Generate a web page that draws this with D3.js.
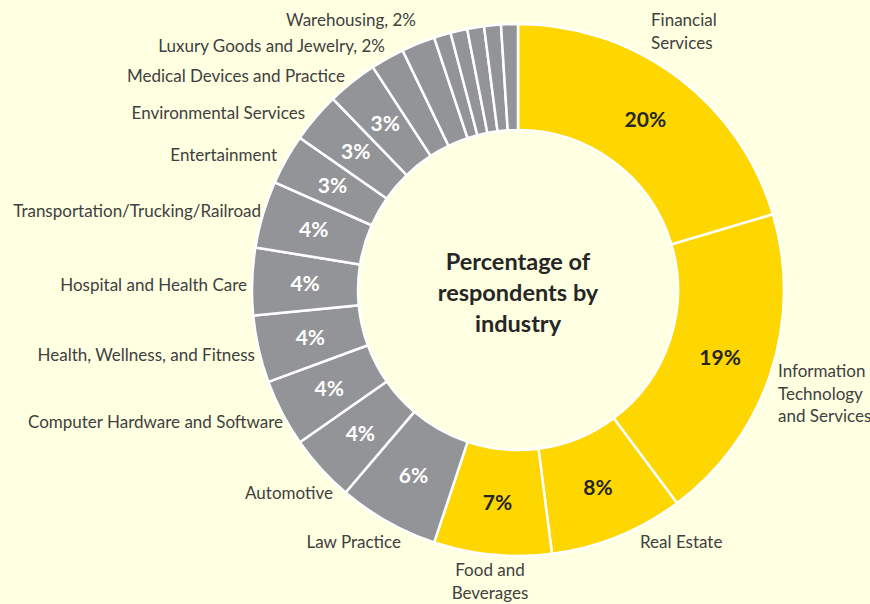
<!DOCTYPE html>
<html>
<head>
<meta charset="utf-8">
<script src="https://cdn.jsdelivr.net/npm/d3@7"></script>
<style>
  html, body { margin: 0; padding: 0; background: #FFFFE1; }
  svg { display: block; }
  text { font-family: Lato, "Open Sans", sans-serif; }
</style>
</head>
<body>
<svg id="chart" width="870" height="604"></svg>
<script>
// Industries, clockwise from 12 o'clock
const industries = [
  "Financial Services",
  "Information Technology and Services",
  "Real Estate",
  "Food and Beverages",
  "Law Practice",
  "Automotive",
  "Computer Hardware and Software",
  "Health, Wellness, and Fitness",
  "Hospital and Health Care",
  "Transportation/Trucking/Railroad",
  "Entertainment",
  "Environmental Services",
  "Medical Devices and Practice",
  "Luxury Goods and Jewelry",
  "Warehousing",
  "", "", "", "", ""
];
// Share of respondents, percent
const shares = [20, 19, 8, 7, 6, 4, 4, 4, 4, 4, 3, 3, 3, 2, 2, 1, 1, 1, 1, 1];
// Outside captions (lines), null where a slice has none
const captions = [
  ["Financial", "Services"],
  ["Information", "Technology", "and Services"],
  ["Real Estate"],
  ["Food and", "Beverages"],
  ["Law Practice"],
  ["Automotive"],
  ["Computer Hardware and Software"],
  ["Health, Wellness, and Fitness"],
  ["Hospital and Health Care"],
  ["Transportation/Trucking/Railroad"],
  ["Entertainment"],
  ["Environmental Services"],
  ["Medical Devices and Practice"],
  ["Luxury Goods and Jewelry, 2%"],
  ["Warehousing, 2%"],
  null, null, null, null, null
];
const centerTitle = ["Percentage of", "respondents by", "industry"];

// Caption placement: [anchor, x, first baseline]
const captionLayout = [
  ["start", 651, 26],
  ["start", 778, 377],
  ["start", 640, 548],
  ["middle", 490, 576],
  ["end", 401, 548],
  ["end", 333, 499],
  ["end", 283, 428],
  ["end", 255, 361],
  ["end", 247, 291],
  ["end", 261, 217],
  ["end", 277, 161],
  ["end", 305, 119],
  ["end", 345, 82],
  ["end", 385, 52],
  ["end", 416, 26],
  null, null, null, null, null
];

const cx = 518, cy = 290;
const outerR = 266, innerR = 160;
const YELLOW = "#FFD700", GREY = "#939497";

const svg = d3.select("#chart");
const g = svg.append("g").attr("transform", `translate(${cx},${cy})`);

const data = industries.map((name, i) => ({ name, value: shares[i], i }));
const pie = d3.pie().sort(null).value(d => d.value).startAngle(0).endAngle(2 * Math.PI);
const arcs = pie(data);
const arc = d3.arc().innerRadius(innerR).outerRadius(outerR);

const isTop = i => i < 4;

g.selectAll("path.slice")
  .data(arcs)
  .join("path")
  .attr("class", "slice")
  .attr("d", arc)
  .attr("fill", d => isTop(d.data.i) ? YELLOW : GREY)
  .attr("stroke", "#FFFFFF")
  .attr("stroke-width", 2.5)
  .attr("stroke-linejoin", "miter");

// Percent labels inside slices of 3% and more
g.selectAll("text.pct")
  .data(arcs.filter(d => d.data.value >= 3))
  .join("text")
  .attr("class", "pct")
  .attr("transform", d => `translate(${arc.centroid(d)})`)
  .attr("text-anchor", "middle")
  .attr("dy", "0.36em")
  .attr("font-size", 21)
  .attr("font-weight", 700)
  .attr("fill", d => isTop(d.data.i) ? "#262626" : "#FFFFFF")
  .text(d => d.data.value + "%");

// Outside captions
const capG = svg.append("g");
captions.forEach((lines, i) => {
  if (!lines) return;
  const [anchor, x, y] = captionLayout[i];
  const t = capG.append("text")
    .attr("x", x).attr("y", y)
    .attr("text-anchor", anchor)
    .attr("font-size", 17)
    .attr("fill", "#404040");
  lines.forEach((ln, k) => {
    t.append("tspan").attr("x", x).attr("dy", k === 0 ? 0 : 22.5).text(ln);
  });
});

// Center title
const title = g.append("text")
  .attr("text-anchor", "middle")
  .attr("font-size", 23.5)
  .attr("font-weight", 700)
  .attr("fill", "#262626");
centerTitle.forEach((ln, k) => {
  title.append("tspan").attr("x", 0).attr("y", -20 + k * 31).text(ln);
});
</script>
</body>
</html>
